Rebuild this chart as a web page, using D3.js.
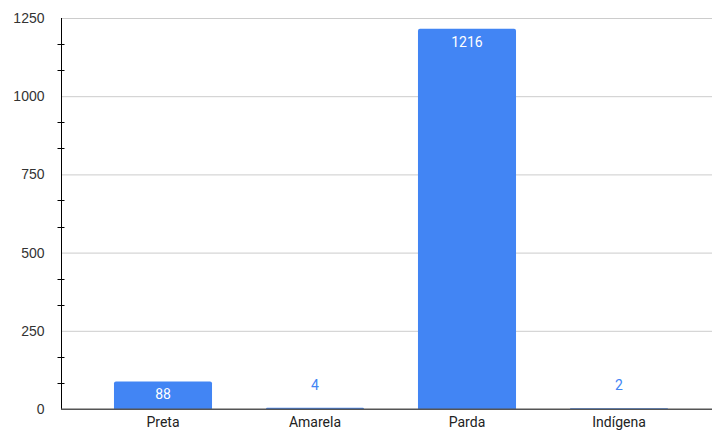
<!DOCTYPE html>
<html><head><meta charset="utf-8">
<script src="https://cdn.jsdelivr.net/npm/d3@7"></script>
<style>html,body{margin:0;padding:0;background:#fff;}svg{display:block;}</style>
</head><body>
<svg id="chart" width="712" height="430"></svg>
<script>
const categories = ["Preta", "Amarela", "Parda", "Indígena"];
const values = [88, 4, 1216, 2];
const yTicks = [0, 250, 500, 750, 1000, 1250];
const yMinorTicks = [83.33, 166.67, 333.33, 416.67, 583.33, 666.67, 833.33, 916.67, 1083.33, 1166.67];

(function () {
const svg = d3.select("#chart");
const W = 712;
const mLeft = 61, mTop = 18, mBottom = 409;
const blue = "#4285F4";

const y = d3.scaleLinear().domain([0, 1250]).range([mBottom, mTop]);
const x = d3.scaleBand().domain(categories).range([87, 695]).paddingInner(0.355).paddingOuter(0.1775);

// gridlines
svg.append("g").selectAll("line").data(yTicks.filter(d => d > 0)).join("line")
  .attr("x1", mLeft).attr("x2", W).attr("y1", d => y(d) + 0.5).attr("y2", d => y(d) + 0.5)
  .attr("stroke", "#cccccc").attr("stroke-width", 1);

// y axis
const yAxis = d3.axisLeft(y).tickValues(yTicks).tickFormat(d3.format("d")).tickSize(0).tickPadding(17);
const gy = svg.append("g").attr("transform", `translate(${mLeft + 0.5},0)`).call(yAxis);
gy.select(".domain").remove();
gy.selectAll("text").attr("font-family", "Liberation Sans, Arial, sans-serif").attr("font-size", 14).attr("fill", "#333");
svg.append("line").attr("x1", mLeft + 0.5).attr("x2", mLeft + 0.5).attr("y1", mTop).attr("y2", mBottom)
  .attr("stroke", "#000").attr("stroke-width", 1);
svg.append("g").selectAll("line").data(yMinorTicks).join("line")
  .attr("x1", mLeft - 3.5).attr("x2", mLeft + 3.5)
  .attr("y1", d => Math.round(y(d)) + 0.5).attr("y2", d => Math.round(y(d)) + 0.5)
  .attr("stroke", "#000").attr("stroke-width", 1);

// bars with rounded top
function barPath(x0, w, yTop, yBot, r) {
  const h = yBot - yTop;
  r = Math.min(r, h, w / 2);
  return `M${x0},${yBot}V${yTop + r}Q${x0},${yTop} ${x0 + r},${yTop}H${x0 + w - r}Q${x0 + w},${yTop} ${x0 + w},${yTop + r}V${yBot}Z`;
}
svg.append("g").selectAll("path").data(categories).join("path")
  .attr("d", (c, i) => barPath(x(c), x.bandwidth(), y(values[i]), y(0), 2))
  .attr("fill", blue);

// value labels
const inside = i => (y(0) - y(values[i]) > 24);
svg.append("g").selectAll("text").data(categories).join("text")
  .attr("x", c => x(c) + x.bandwidth() / 2)
  .attr("y", (c, i) => inside(i) ? y(values[i]) + 18 : y(values[i]) - 18)
  .attr("text-anchor", "middle")
  .attr("font-family", "Roboto, sans-serif").attr("font-size", 14)
  .attr("fill", (c, i) => inside(i) ? "#fff" : blue)
  .text((c, i) => values[i]);

// x axis
const xAxis = d3.axisBottom(x).tickSize(0).tickPadding(8);
const gx = svg.append("g").attr("transform", `translate(0,${mBottom})`).call(xAxis);
gx.select(".domain").remove();
gx.selectAll("text").attr("font-family", "Roboto, sans-serif").attr("font-size", 14).attr("fill", "#222");
svg.append("line").attr("x1", mLeft).attr("x2", W).attr("y1", mBottom + 0.25).attr("y2", mBottom + 0.25)
  .attr("stroke", "#555").attr("stroke-width", 1.5);
})();
</script>
</body></html>
